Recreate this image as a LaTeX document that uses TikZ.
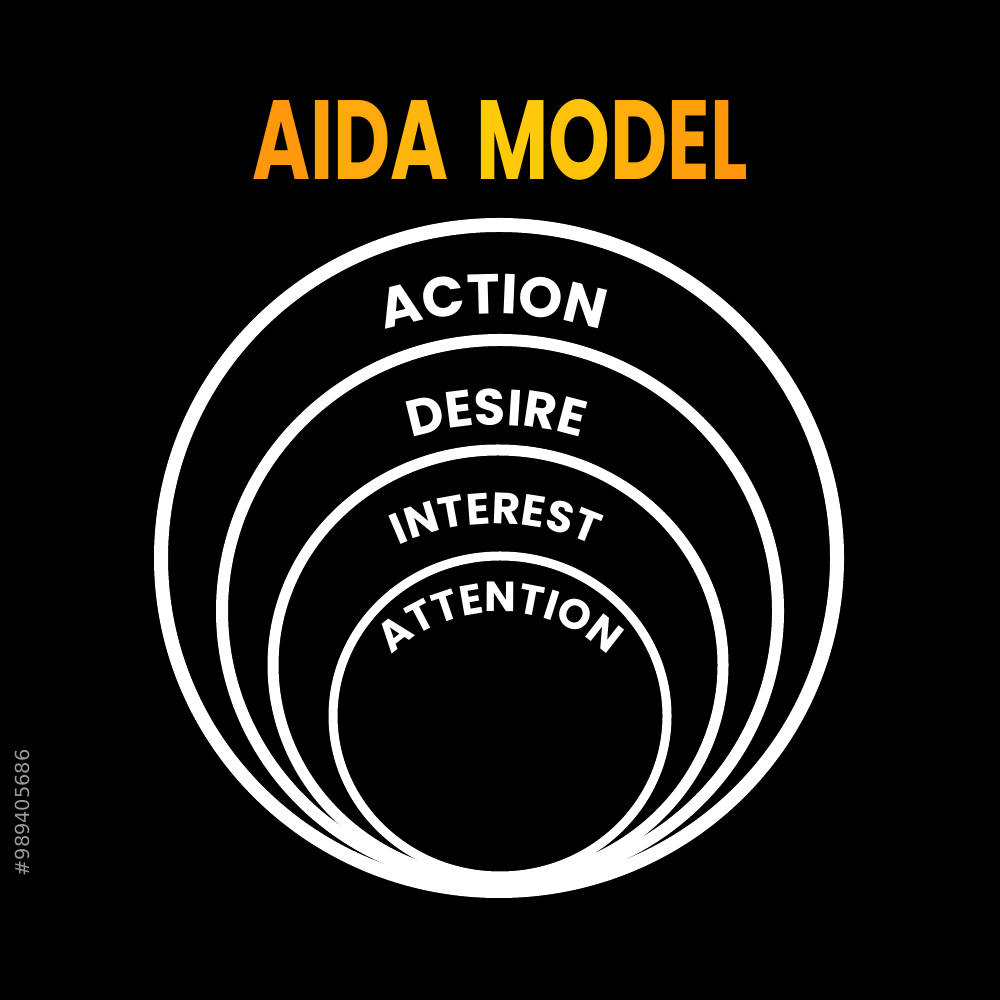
\documentclass[tikz,border=0pt]{standalone}
\usepackage{graphicx}
\usepackage{fontspec}
\setmainfont{Poppins}
\newfontfamily\idfont{DejaVu Sans}
\usetikzlibrary{shapes.geometric,decorations.text}
\definecolor{tA}{HTML}{FF980C}
\definecolor{tB}{HTML}{FF9F0C}
\definecolor{tC}{HTML}{FFA90C}
\definecolor{tD}{HTML}{FFB60C}
\definecolor{tE}{HTML}{FFCA0A}
\definecolor{tF}{HTML}{FFC20A}
\definecolor{tG}{HTML}{FFAE0C}
\definecolor{tH}{HTML}{FFA00C}
\definecolor{tI}{HTML}{FF960C}
\definecolor{idgray}{HTML}{9A9A9A}
\tikzset{
  ring/.style={ellipse, draw=white, fill=none, inner sep=0pt, outer sep=0pt},
  arclabel/.style={decorate, decoration={text along path, text align=center, text color=white}}
}
\begin{document}
\begin{tikzpicture}
\useasboundingbox (0,0) rectangle (10,10);
\fill[black] (0,0) rectangle (10,10);

% title
\node[inner sep=0pt] (title) at (5,8.6) {\scalebox{0.7}[1]{\fontsize{32}{32}\selectfont\bfseries
  \textcolor{tA}{A}\textcolor{tB}{I}\textcolor{tC}{D}\textcolor{tD}{A}\hspace{0.35em}\textcolor{tE}{M}\textcolor{tF}{O}\textcolor{tG}{D}\textcolor{tH}{E}\textcolor{tI}{L}}};

% rings
\node[ring, line width=0.14cm, minimum width=6.76cm, minimum height=6.66cm] (action) at (4.99,4.42) {};
\node[ring, line width=0.12cm, minimum width=5.56cm, minimum height=5.42cm] (desire) at (5.00,3.89) {};
\node[ring, line width=0.11cm, minimum width=4.50cm, minimum height=4.30cm] (interest) at (4.98,3.35) {};
\node[ring, line width=0.09cm, minimum width=3.34cm, minimum height=3.20cm] (attention) at (5.00,2.84) {};

% curved labels
\path[arclabel, decoration={text={|\fontsize{16}{16}\selectfont\bfseries|ACTION}}]
  ([shift={(130:3.7)}]4.93,3.16) arc[start angle=130, end angle=50, radius=3.7];
\path[arclabel, decoration={text={|\fontsize{14.5}{14.5}\selectfont\bfseries|DESIRE}}]
  ([shift={(135:2.8)}]4.96,2.95) arc[start angle=135, end angle=45, radius=2.8];
\path[arclabel, decoration={text={|\fontsize{12.5}{12.5}\selectfont\bfseries|INTEREST}}]
  ([shift={(145:2.33)}]4.96,2.43) arc[start angle=145, end angle=35, radius=2.33];
\path[arclabel, decoration={text={|\fontsize{12}{12}\selectfont\bfseries|ATTENTION}}]
  ([shift={(160:1.55)}]5.0,2.33) arc[start angle=160, end angle=20, radius=1.55];

% stock id
\node[rotate=90, inner sep=0pt, text=idgray, font=\idfont\fontsize{5.5}{6}\selectfont] (stockid) at (0.22,1.87) {\#989405686};
\end{tikzpicture}
\end{document}
